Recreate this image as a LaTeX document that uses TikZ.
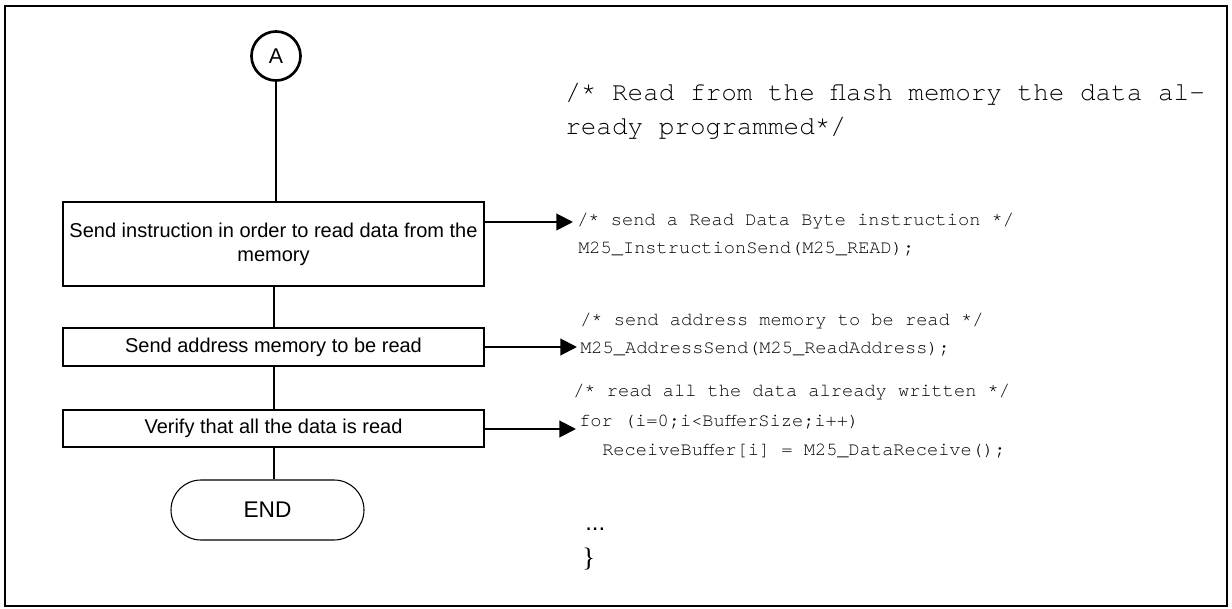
\documentclass[tikz,border=0pt]{standalone}
\usepackage{fontspec}
\setmainfont{Liberation Sans}
\newfontfamily\codefont{texgyrecursor-regular.otf}
\newfontfamily\bracefont{Liberation Serif}
\usetikzlibrary{arrows.meta,shapes.misc}
\begin{document}
\begin{tikzpicture}[x=0.75pt,y=-0.75pt,
  box/.style={draw,line width=1.1pt,minimum width=315.75pt,inner sep=0pt,align=center,font=\fontsize{15}{18}\selectfont},
  conn/.style={line width=1.5pt},
  arr/.style={line width=1.5pt,-{Triangle[length=12.5pt,width=12.5pt]}},
  code/.style={anchor=mid west,inner sep=0pt,font=\codefont\fontsize{14}{16}\selectfont},
  bigcode/.style={anchor=mid west,inner sep=0pt,font=\codefont\fontsize{19.5}{22}\selectfont}]
\useasboundingbox (0,0) rectangle (1232,609);
\draw[line width=1.9pt] (5,6) rectangle (1227,606);
\node[circle,draw,line width=2pt,minimum size=36.75pt,inner sep=0pt,font=\fontsize{16}{18}\selectfont] (A) at (276,56) {A};
\node[box,minimum height=63pt] (b1) at (273.5,244) {Send instruction in order to read data from the\\memory};
\node[box,minimum height=28.5pt] (b2) at (273.5,347) {Send address memory to be read};
\node[box,minimum height=27.75pt] (b3) at (273.5,428.5) {Verify that all the data is read};
\node[rounded rectangle,draw,line width=0.8pt,minimum width=144.75pt,minimum height=45pt,inner sep=0pt,font=\fontsize{17}{20}\selectfont] (E) at (267.5,510) {END};
\draw[conn] (A.south) -- (A.south |- b1.north);
\draw[conn] (b1.south) -- (b2.north);
\draw[conn] (b2.south) -- (b3.north);
\draw[conn] (b3.south) -- (b3.south |- E.north);
\coordinate (t1) at (573,222);
\coordinate (t2) at (577,347);
\coordinate (t3) at (576,429);
\draw[arr] (b1.east |- t1) -- (t1);
\draw[arr] (b2.east) -- (t2);
\draw[arr] (b3.east |- t3) -- (t3);
\node[bigcode] (c0a) at (565,97) {/* Read from the flash memory the data al-};
\node[bigcode] (c0b) at (565,131) {ready programmed*/};
\node[code] (c1a) at (577,222) {/* send a Read Data Byte instruction */};
\node[code] (c1b) at (578,250) {M25\_InstructionSend(M25\_READ);};
\node[code] (c2a) at (580,322) {/* send address memory to be read */};
\node[code] (c2b) at (580,350) {M25\_AddressSend(M25\_ReadAddress);};
\node[code] (c3a) at (573,393) {/* read all the data already written */};
\node[code] (c3b) at (579,423) {for (i=0;i<BufferSize;i++)};
\node[code] (c3c) at (602,452) {ReceiveBuffer[i] = M25\_DataReceive();};
\node[anchor=mid west,inner sep=0pt,font=\fontsize{18}{20}\selectfont] (dots) at (585,527) {...};
\node[anchor=mid west,inner sep=0pt,font=\bracefont\fontsize{20}{22}\selectfont] (brace) at (582,563) {\}};
\end{tikzpicture}
\end{document}
